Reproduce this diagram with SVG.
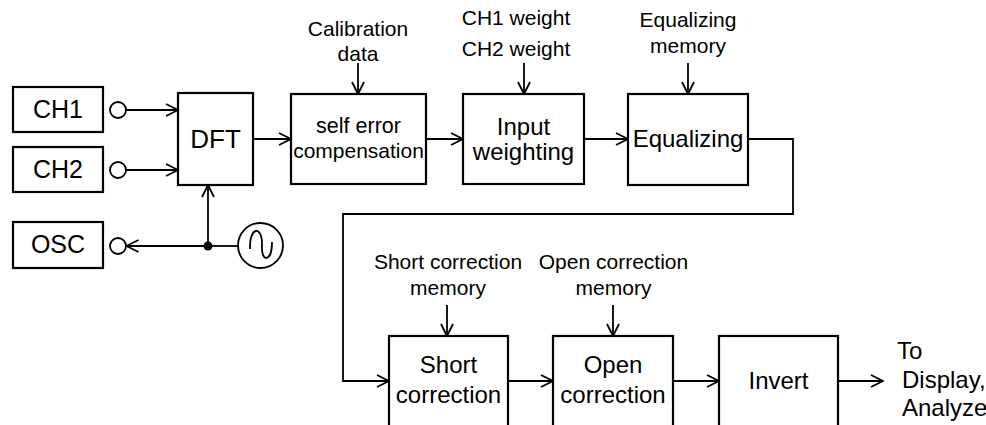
<svg xmlns="http://www.w3.org/2000/svg" width="986" height="425" viewBox="0 0 986 425">
  <defs>
    <marker id="arrow" viewBox="0 0 14 14" refX="13" refY="7" markerWidth="14" markerHeight="14" markerUnits="userSpaceOnUse" orient="auto">
      <path d="M1,1 L13,7 L1,13" fill="none" stroke="#000" stroke-width="1.8"/>
    </marker>
    <style>
      .box { fill: #fff; stroke: #000; stroke-width: 2.2; }
      .ln { fill: none; stroke: #000; stroke-width: 1.8; }
      .arr { fill: none; stroke: #000; stroke-width: 1.8; marker-end: url(#arrow); }
      text { font-family: "Liberation Sans", Arial, sans-serif; fill: #000; text-anchor: middle; }
      .lbl { font-size: 21px; }
      .big { font-size: 24px; }
      .io { font-size: 25px; }
      .out { font-size: 24px; text-anchor: start; }
    </style>
  </defs>

  <!-- connectors -->
  <g id="connectors">
    <line class="arr" x1="126" y1="110" x2="178" y2="110"/>
    <line class="arr" x1="126" y1="170" x2="178" y2="170"/>
    <polyline class="ln" points="238,246 208,246"/>
    <line class="arr" x1="208" y1="246" x2="126.5" y2="246"/>
    <line class="arr" x1="208" y1="246" x2="208" y2="185"/>
    <circle cx="208" cy="246" r="4.5" fill="#000"/>
    <line class="arr" x1="253" y1="139" x2="291" y2="139"/>
    <line class="arr" x1="426" y1="139" x2="463" y2="139"/>
    <line class="arr" x1="584" y1="139" x2="628" y2="139"/>
    <polyline class="arr" points="748,139 793,139 793,214 343,214 343,381 389,381"/>
    <line class="arr" x1="508" y1="381" x2="553" y2="381"/>
    <line class="arr" x1="673" y1="381" x2="719" y2="381"/>
    <line class="arr" x1="838" y1="381" x2="883" y2="381"/>
    <line class="arr" x1="358" y1="63" x2="358" y2="94"/>
    <line class="arr" x1="524" y1="63" x2="524" y2="94"/>
    <line class="arr" x1="688" y1="63" x2="688" y2="94"/>
    <line class="arr" x1="447" y1="305" x2="447" y2="336"/>
    <line class="arr" x1="613" y1="305" x2="613" y2="336"/>
  </g>

  <!-- input / output terminals -->
  <g id="ch1">
    <rect class="box" x="13" y="87" width="90" height="45"/>
    <text class="io" x="58" y="118">CH1</text>
    <circle class="ln" cx="118" cy="110" r="8" fill="#fff"/>
  </g>
  <g id="ch2">
    <rect class="box" x="13" y="147" width="90" height="45"/>
    <text class="io" x="58" y="178">CH2</text>
    <circle class="ln" cx="118" cy="170" r="8" fill="#fff"/>
  </g>
  <g id="osc">
    <rect class="box" x="13" y="222" width="90" height="46"/>
    <text class="io" x="58" y="253">OSC</text>
    <circle class="ln" cx="118" cy="246" r="8" fill="#fff"/>
  </g>

  <!-- signal source -->
  <g id="source">
    <circle class="ln" cx="260.5" cy="245.5" r="22.5" fill="#fff"/>
    <path class="ln" d="M250,249 C249,226 263,225 262,246 C261,262 272,263 272,242"/>
  </g>

  <!-- processing chain -->
  <g id="dft">
    <rect class="box" x="178" y="93" width="75" height="92"/>
    <text x="215.5" y="148" style="font-size:26px">DFT</text>
  </g>
  <g id="self-error">
    <rect class="box" x="291" y="94" width="135" height="90"/>
    <text x="358.5" y="133" style="font-size:21.5px">self error</text>
    <text x="358.5" y="158" style="font-size:21px">compensation</text>
    <text class="lbl" x="358" y="36">Calibration</text>
    <text class="lbl" x="358" y="61">data</text>
  </g>
  <g id="input-weighting">
    <rect class="box" x="463" y="94" width="121" height="90"/>
    <text class="big" x="523.5" y="135">Input</text>
    <text class="big" x="523.5" y="160">weighting</text>
    <text class="lbl" x="516" y="25">CH1 weight</text>
    <text class="lbl" x="516" y="56">CH2 weight</text>
  </g>
  <g id="equalizing">
    <rect class="box" x="628" y="94" width="120" height="91"/>
    <text class="big" x="688" y="147">Equalizing</text>
    <text class="lbl" x="688" y="27">Equalizing</text>
    <text class="lbl" x="688" y="53">memory</text>
  </g>
  <g id="short-correction">
    <rect class="box" x="389" y="336" width="119" height="100"/>
    <text class="big" x="448.5" y="373">Short</text>
    <text class="big" x="448.5" y="403">correction</text>
    <text class="lbl" x="448" y="269">Short correction</text>
    <text class="lbl" x="448" y="295">memory</text>
  </g>
  <g id="open-correction">
    <rect class="box" x="553" y="336" width="120" height="100"/>
    <text class="big" x="613" y="373">Open</text>
    <text class="big" x="613" y="403">correction</text>
    <text class="lbl" x="613.5" y="269">Open correction</text>
    <text class="lbl" x="613.5" y="295">memory</text>
  </g>
  <g id="invert">
    <rect class="box" x="719" y="336" width="119" height="100"/>
    <text class="big" x="778.5" y="389">Invert</text>
  </g>
  <g id="output">
    <text class="out" x="897" y="359">To</text>
    <text class="out" x="902" y="388">Display,</text>
    <text class="out" x="902" y="416">Analyze</text>
  </g>
</svg>
